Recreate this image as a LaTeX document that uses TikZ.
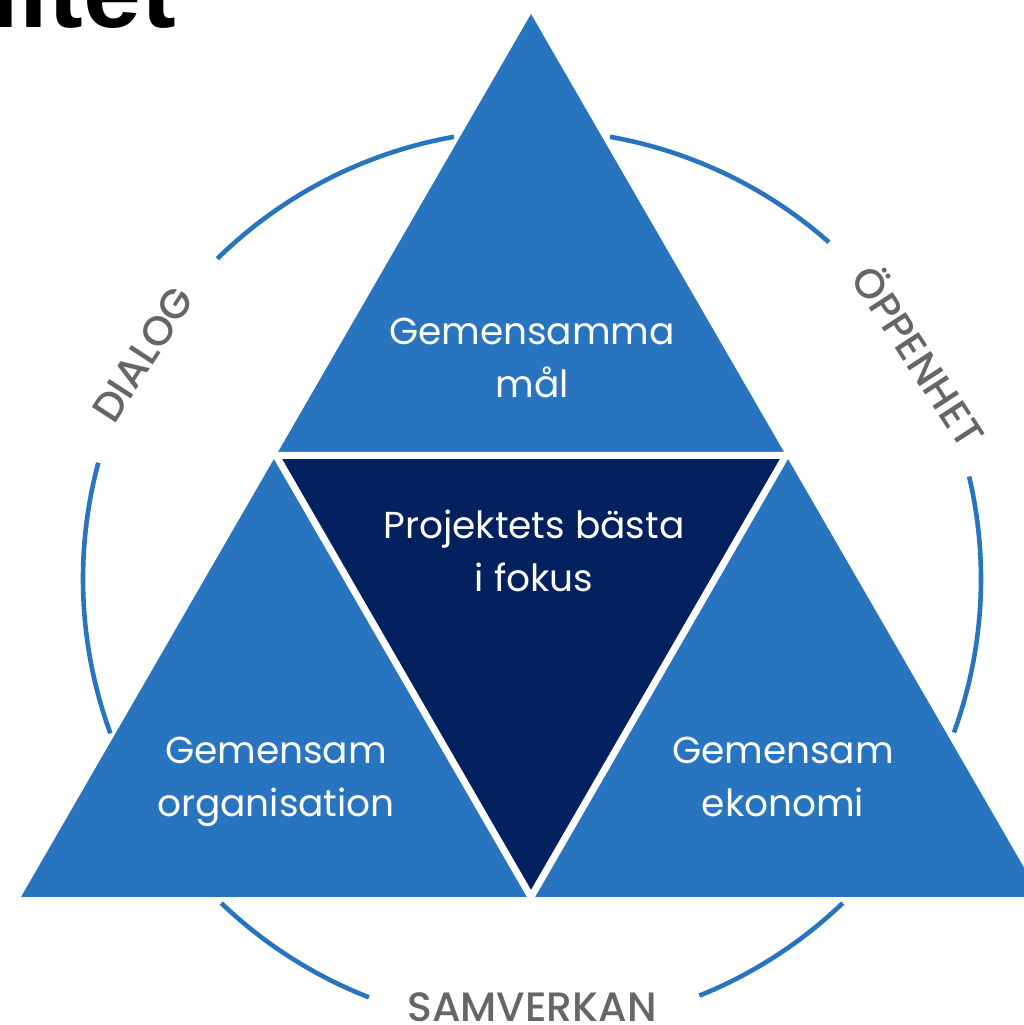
\documentclass[tikz,border=0pt]{standalone}
\usepackage{fontspec}
\setmainfont{Poppins}
\newfontfamily\labelfont{Poppins Medium}
\newfontfamily\titlefont{Liberation Sans}
\usetikzlibrary{calc}
\definecolor{midblue}{HTML}{2874BE}
\definecolor{navyblue}{HTML}{03215F}
\definecolor{labelgray}{HTML}{666666}
\begin{document}
\begin{tikzpicture}[x=1pt, y=1pt,
		inner/.style={text=white, font=\fontsize{37.5}{53}\selectfont, align=center},
		outer/.style={text=labelgray, font=\labelfont\fontsize{41}{44}\selectfont},
		ring/.style={midblue, line width=4.6pt}]
		\useasboundingbox (0,0) rectangle (1023,1025);

		\coordinate (top) at (531,1011);
		\coordinate (bl) at (21,128);
		\coordinate (br) at (1041,128);
		\coordinate (ml) at ($(top)!0.5!(bl)$);
		\coordinate (mr) at ($(top)!0.5!(br)$);
		\coordinate (mb) at ($(bl)!0.5!(br)$);
		\coordinate (c) at (532,446);

		% triangles
		\fill[midblue] (top) -- (br) -- (bl) -- cycle;
		\fill[navyblue] (ml) -- (mr) -- (mb) -- cycle;
		\draw[white, line width=7pt] (ml) -- (mr) -- (mb) -- cycle;

		% ring
		\foreach \a/\b in {100/134.5, 48.6/80, -20/13.2, -68.1/-46.2, -133.8/-111.3, 165/200.1}
			\draw[ring] ($(c)+(\a:449)$) arc[start angle=\a, end angle=\b, radius=449];

		\node[inner] (mal) at (532,667) {Gemensamma\\mål};
		\node[inner] (fokus) at (534,474) {Projektets bästa\\i fokus};
		\node[inner] (org) at (276,243) {Gemensam\\organisation};
		\node[inner] (eko) at (783,248) {Gemensam\\ekonomi};

		\node[outer, rotate=57] (dialog) at ($(c)+(150:449)$) {DIALOG};
		\node[outer, rotate=-57] (oppenhet) at ($(c)+(30:449)$) {ÖPPENHET};
		\node[outer, anchor=base] (samverkan) at (532,4) {SAMVERKAN};

		\begin{scope}
			\clip (0,0) rectangle (1023,1025);
			\node[anchor=base east, inner sep=0pt, font=\titlefont\bfseries\fontsize{104}{110}\selectfont] (rubrik) at (176,997) {litet};
		\end{scope}
	\end{tikzpicture}
\end{document}
